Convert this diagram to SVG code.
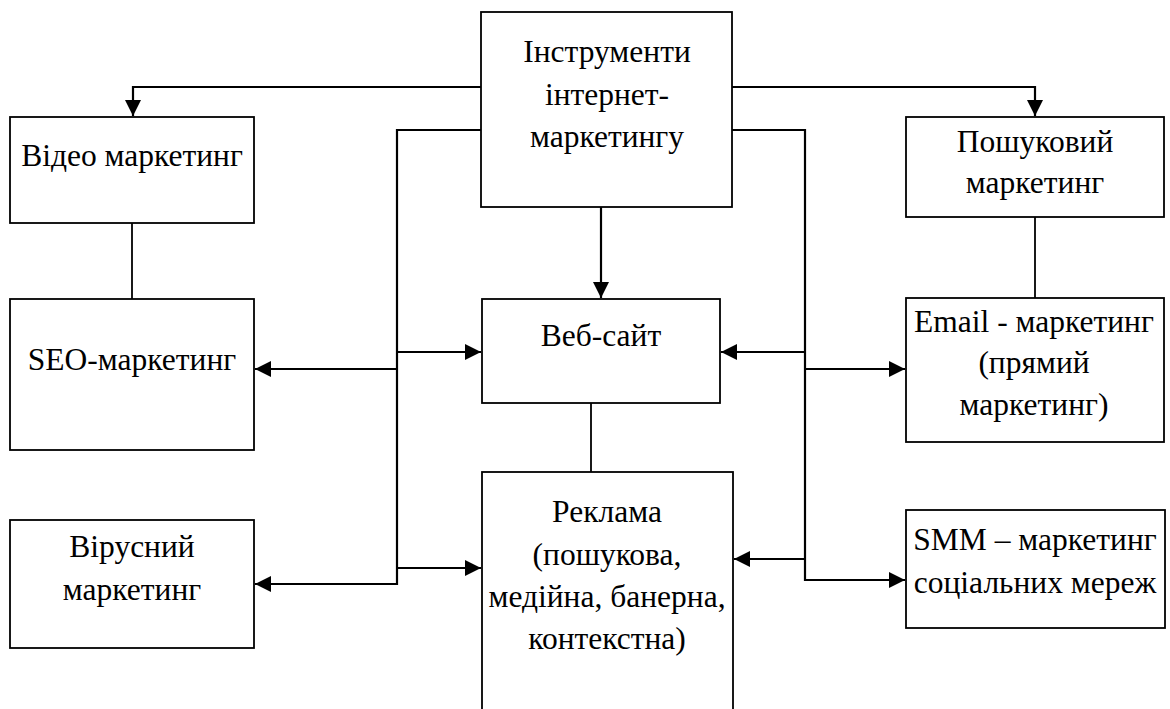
<svg xmlns="http://www.w3.org/2000/svg" width="1170" height="709" viewBox="0 0 1170 709" font-family="Liberation Serif, serif">
<defs>
<marker id="ah" markerUnits="userSpaceOnUse" markerWidth="18" markerHeight="18" viewBox="0 0 18 18" refX="16" refY="9" orient="auto">
<path d="M0,1 L16,9 L0,17 Z" fill="#000"/>
</marker>
</defs>
<style>
.box{fill:#fff;stroke:#000;stroke-width:1.8}
.t{font-family:"Liberation Serif",serif;font-size:31.5px;fill:#000;text-anchor:middle}
.c{fill:none;stroke:#000;stroke-width:2.2}
.l{fill:none;stroke:#000;stroke-width:1.8}
.a{marker-end:url(#ah)}
</style>
<rect width="1170" height="709" fill="#fff"/>
<g id="connectors">
<path class="c a" d="M481,87 H133 V116"/>
<path class="c a" d="M732,87 H1035 V116"/>
<path class="c a" d="M601,207 V298"/>
<path class="c a" d="M481,130 H397 V584 H255"/>
<path class="c a" d="M397,352 H481"/>
<path class="c a" d="M397,369 H255"/>
<path class="c a" d="M397,568 H481"/>
<path class="c a" d="M732,130 H805 V580 H905"/>
<path class="c a" d="M805,352 H721"/>
<path class="c a" d="M805,369 H905"/>
<path class="c a" d="M805,559 H734"/>
<path class="l" d="M132,223 V299"/>
<path class="l" d="M1035,217 V298"/>
<path class="l" d="M591,403 V472"/>
</g>
<g id="top">
<rect class="box" x="481" y="12" width="251" height="195"/>
<text class="t" x="607" y="62">Інструменти</text>
<text class="t" x="607" y="105">інтернет-</text>
<text class="t" x="607" y="147">маркетингу</text>
</g>
<g id="video">
<rect class="box" x="10" y="117" width="244" height="106"/>
<text class="t" x="132" y="166">Відео маркетинг</text>
</g>
<g id="seo">
<rect class="box" x="10" y="299" width="244" height="151"/>
<text class="t" x="132" y="370">SEO-маркетинг</text>
</g>
<g id="viral">
<rect class="box" x="10" y="520" width="244" height="128"/>
<text class="t" x="132" y="557">Вірусний</text>
<text class="t" x="132" y="600">маркетинг</text>
</g>
<g id="web">
<rect class="box" x="482" y="299" width="238" height="104"/>
<text class="t" x="601" y="346">Веб-сайт</text>
</g>
<g id="ads">
<rect class="box" x="482" y="472" width="251" height="250"/>
<text class="t" x="607" y="522">Реклама</text>
<text class="t" x="607" y="565">(пошукова,</text>
<text class="t" x="607" y="607">медійна, банерна,</text>
<text class="t" x="607" y="649">контекстна)</text>
</g>
<g id="search">
<rect class="box" x="906" y="117" width="258" height="100"/>
<text class="t" x="1035" y="152">Пошуковий</text>
<text class="t" x="1035" y="193">маркетинг</text>
</g>
<g id="email">
<rect class="box" x="906" y="298" width="258" height="144"/>
<text class="t" x="1034" y="332">Email - маркетинг</text>
<text class="t" x="1034" y="373">(прямий</text>
<text class="t" x="1034" y="415">маркетинг)</text>
</g>
<g id="smm">
<rect class="box" x="906" y="510" width="259" height="118"/>
<text class="t" x="1035" y="550">SMM – маркетинг</text>
<text class="t" x="1035" y="593">соціальних мереж</text>
</g>
</svg>
